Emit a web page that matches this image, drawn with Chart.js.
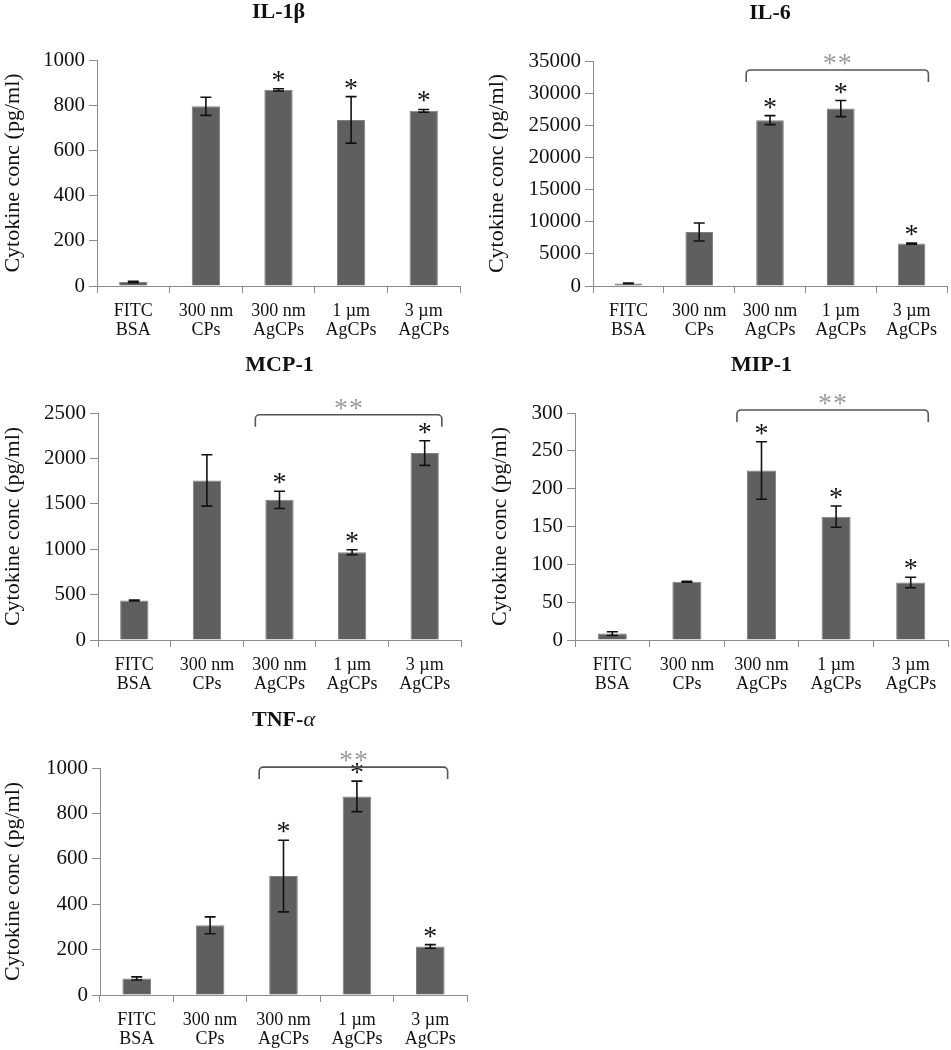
<!DOCTYPE html>
<html><head><meta charset="utf-8">
<script src="https://cdn.jsdelivr.net/npm/chart.js@4"></script>
<style>
body{margin:0;background:#fff;}
#wrap{position:relative;width:951px;height:1050px;background:#fff;overflow:hidden;}
canvas{position:absolute;}
</style></head><body><div id="wrap">
<canvas id="c1" width="475" height="350" style="left:0px;top:0px"></canvas>
<canvas id="c2" width="476" height="350" style="left:475px;top:0px"></canvas>
<canvas id="c3" width="475" height="370" style="left:0px;top:330px"></canvas>
<canvas id="c4" width="476" height="370" style="left:475px;top:330px"></canvas>
<canvas id="c5" width="475" height="370" style="left:0px;top:680px"></canvas>
</div>
<script>
// ---- data ----
const categories = [["FITC","BSA"],["300 nm","CPs"],["300 nm","AgCPs"],["1 µm","AgCPs"],["3 µm","AgCPs"]];
const yTitle = "Cytokine conc (pg/ml)";

const il1bMean = [18, 795, 868, 735, 775];
const il1bErr  = [3, 40, 5, 103, 6];
const il1bStar = [false, false, true, true, true];

const il6Mean = [400, 8400, 25800, 27600, 6600];
const il6Err  = [60, 1400, 700, 1250, 100];
const il6Star = [false, false, true, true, true];

const mcp1Mean = [435, 1757, 1544, 967, 2059];
const mcp1Err  = [5, 283, 95, 27, 136];
const mcp1Star = [false, false, true, true, true];

const mip1Mean = [8.5, 77, 224, 163, 76];
const mip1Err  = [2.5, 0.5, 38, 14, 7];
const mip1Star = [false, false, true, true, true];

const tnfaMean = [73, 307, 524, 875, 214];
const tnfaErr  = [7, 37, 158, 67, 8];
const tnfaStar = [false, false, true, true, true];

const FONT = "'Liberation Serif', 'Times New Roman', serif";

const extras = {
  id: 'extras',
  afterDatasetsDraw(chart, args, opts) {
    const ctx = chart.ctx, y = chart.scales.y, area = chart.chartArea;
    const meta = chart.getDatasetMeta(0);
    const mean = opts.mean, err = opts.err;
    ctx.save();
    // error bars
    ctx.strokeStyle = '#111'; ctx.lineWidth = 1.6;
    meta.data.forEach((bar, i) => {
      const x = bar.x;
      const t = y.getPixelForValue(mean[i] + err[i]);
      const b = y.getPixelForValue(Math.max(0, mean[i] - err[i]));
      ctx.beginPath();
      ctx.moveTo(x, t); ctx.lineTo(x, b);
      ctx.moveTo(x - 5.5, t); ctx.lineTo(x + 5.5, t);
      ctx.moveTo(x - 5.5, b); ctx.lineTo(x + 5.5, b);
      ctx.stroke();
    });
    // asterisks
    const SZ = 28;
    ctx.fillStyle = '#111';
    ctx.font = SZ + 'px ' + FONT;
    ctx.textAlign = 'center'; ctx.textBaseline = 'alphabetic';
    meta.data.forEach((bar, i) => {
      if (!opts.star[i]) return;
      const t = y.getPixelForValue(mean[i] + err[i]);
      ctx.fillText('*', bar.x, t - 14 + SZ * 0.5);
    });
    // bracket
    if (opts.bracket) {
      const b1 = meta.data[opts.bracket.from], b2 = meta.data[opts.bracket.to];
      const x1 = b1.x - b1.width / 2 - 10, x2 = b2.x + b2.width / 2 + 3;
      const yb = y.getPixelForValue(opts.bracket.level);
      const r = 4;
      ctx.strokeStyle = '#555'; ctx.lineWidth = 1.6;
      ctx.beginPath();
      ctx.moveTo(x1, yb + 12);
      ctx.lineTo(x1, yb + r);
      ctx.arcTo(x1, yb, x1 + r, yb, r);
      ctx.lineTo(x2 - r, yb);
      ctx.arcTo(x2, yb, x2, yb + r, r);
      ctx.lineTo(x2, yb + 12);
      ctx.stroke();
      ctx.fillStyle = '#9a9a9a';
      const cx = (x1 + x2) / 2;
      ctx.fillText('*', cx - 7.5, yb - 12 + SZ * 0.5);
      ctx.fillText('*', cx + 7.5, yb - 12 + SZ * 0.5);
    }
    // title
    const tx = (area.left + area.right) / 2, ty = area.top - 48;
    ctx.fillStyle = '#111';
    ctx.textBaseline = 'middle';
    const parts = opts.title;
    let total = 0;
    parts.forEach(p => { ctx.font = p.f + ' 22px ' + FONT; p.w = ctx.measureText(p.t).width; total += p.w; });
    let xx = tx - total / 2;
    ctx.textAlign = 'left';
    parts.forEach(p => { ctx.font = p.f + ' 22px ' + FONT; ctx.fillText(p.t, xx, ty); xx += p.w; });
    ctx.restore();
  }
};
Chart.register(extras);

function makePanel(id, cfg) {
  const el = document.getElementById(id);
  const W = el.width, H = el.height, a = cfg.area;
  new Chart(el, {
    type: 'bar',
    data: {
      labels: categories,
      datasets: [{
        data: cfg.mean,
        backgroundColor: '#5f5f5f',
        borderColor: '#808080',
        borderWidth: 1,
        barPercentage: 0.39,
        categoryPercentage: 1
      }]
    },
    options: {
      responsive: false,
      animation: false,
      devicePixelRatio: 1,
      layout: { padding: { left: 0, top: a.t, right: W - a.r, bottom: 0 } },
      plugins: {
        legend: { display: false },
        tooltip: { enabled: false },
        title: { display: false },
        extras: { mean: cfg.mean, err: cfg.err, star: cfg.star, bracket: cfg.bracket, title: cfg.title }
      },
      scales: {
        x: {
          grid: { display: true, drawOnChartArea: false, drawTicks: true, tickLength: 7, color: '#8c8c8c', offset: true },
          border: { color: '#8c8c8c', width: 1 },
          ticks: { font: { family: FONT, size: 18, lineHeight: 1.1 }, color: '#111', padding: 8, maxRotation: 0, autoSkip: false },
          afterFit(s) { s.height = H - a.b; }
        },
        y: {
          min: 0, max: cfg.max,
          ticks: { stepSize: cfg.step, font: { family: FONT, size: 21 }, color: '#111', padding: 4, callback: v => String(v) },
          grid: { drawOnChartArea: false, drawTicks: true, tickLength: 8, color: '#8c8c8c' },
          border: { color: '#8c8c8c', width: 1 },
          title: { display: true, text: yTitle, color: '#111', font: { family: FONT, size: 22, lineHeight: 1.2 }, padding: { top: cfg.tpad, bottom: 0 } },
          afterFit(s) { s.width = a.l; }
        }
      }
    }
  });
}

makePanel('c1', { mean: il1bMean, err: il1bErr, star: il1bStar, max: 1000, step: 200,
  area: { l: 97, t: 60, r: 460, b: 286 }, tpad: 0, bracket: null,
  title: [{ t: 'IL-1β', f: 'bold' }] });
makePanel('c2', { mean: il6Mean, err: il6Err, star: il6Star, max: 35000, step: 5000,
  area: { l: 118, t: 61, r: 472, b: 286 }, tpad: 9, bracket: { from: 2, to: 4, level: 33600 },
  title: [{ t: 'IL-6', f: 'bold' }] });
makePanel('c3', { mean: mcp1Mean, err: mcp1Err, star: mcp1Star, max: 2500, step: 500,
  area: { l: 98, t: 83, r: 461, b: 310 }, tpad: 0, bracket: { from: 2, to: 4, level: 2480 },
  title: [{ t: 'MCP-1', f: 'bold' }] });
makePanel('c4', { mean: mip1Mean, err: mip1Err, star: mip1Star, max: 300, step: 50,
  area: { l: 100, t: 83, r: 473, b: 310 }, tpad: 12, bracket: { from: 2, to: 4, level: 304 },
  title: [{ t: 'MIP-1', f: 'bold' }] });
makePanel('c5', { mean: tnfaMean, err: tnfaErr, star: tnfaStar, max: 1000, step: 200,
  area: { l: 100, t: 88, r: 467, b: 315 }, tpad: 0, bracket: { from: 2, to: 4, level: 1004 },
  title: [{ t: 'TNF-', f: 'bold' }, { t: 'α', f: 'italic' }] });
</script>
</body></html>
